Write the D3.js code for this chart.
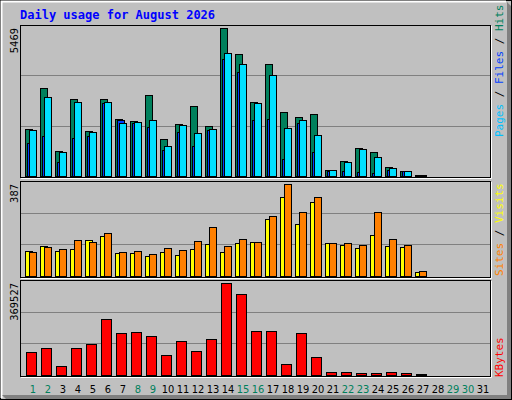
<!DOCTYPE html>
<html><head><meta charset="utf-8">
<script src="https://cdn.jsdelivr.net/npm/d3@7"></script>
<style>body{margin:0;background:#fff}</style>
</head><body><div id="chart"></div>
<script>
var days = d3.range(1, 32);
var weekends = [1, 2, 8, 9, 15, 16, 22, 23, 29, 30];
var hits = [1750,3270,934,2837,1676,2837,2121,2047,3011,1379,1936,2603,1861,5469,4494,2751,4123,2381,2195,2306,230,564,1046,897,341,193,37,0,0,0,0];
var files = [1231,1491,527,1416,1491,2714,2084,1973,1824,972,1639,1120,1713,4309,3827,2084,2121,638,1973,897,193,193,156,119,230,193,37,0,0,0,0];
var pages = [1713,2937,897,2751,1639,2751,1973,2010,2084,1120,1898,1602,1750,4531,4123,2714,3715,1787,2084,1528,230,527,1009,712,304,193,37,0,0,0,0];
var sites = [106,127,106,115,153,169,98,98,85,102,90,115,136,102,140,144,241,333,220,312,140,132,119,173,127,123,18,0,0,0,0];
var visits = [102,123,115,153,144,182,102,106,94,119,111,148,207,127,157,144,253,387,270,333,140,140,132,270,157,132,23,0,0,0,0];
var kbytes = [90560,106700,38000,106700,122900,224000,167400,171400,155300,78400,135000,94600,143100,369527,325000,175500,175500,46100,167400,70300,13700,13700,9700,9700,13700,9700,5700,0,0,0,0];

var W = 512, H = 400;
var svg = d3.select("#chart").append("svg").attr("width", W).attr("height", H)
  .style("font-family", "DejaVu Sans Mono, monospace");

// frame
svg.append("rect").attr("x", 0).attr("y", 0).attr("width", W).attr("height", H).attr("fill", "#c0c0c0");
svg.append("rect").attr("x", 0.5).attr("y", 0.5).attr("width", W - 1).attr("height", H - 1).attr("fill", "none").attr("stroke", "#000");
svg.append("path").attr("d", "M1.5,398 V1.5 H506").attr("stroke", "#fff").attr("stroke-width", 2).attr("fill", "none");
svg.append("path").attr("d", "M507,2 L511,6 V399 H6 L2,395 H507 Z").attr("fill", "#808080");

svg.append("text").attr("x", 20).attr("y", 19).text("Daily usage for August 2026")
  .attr("fill", "#0000ff").attr("font-weight", "bold").attr("font-size", 12);

var x = d3.scaleBand().domain(days).range([25, 490]).paddingInner(0);

function panel(top, bottom, max, label) {
  var y = d3.scaleLinear().domain([0, max]).range([bottom, top + 3]);
  var g = svg.append("g");
  g.append("rect").attr("x", 20.5).attr("y", top + 0.5).attr("width", 470).attr("height", bottom - top + 1)
    .attr("fill", "#c0c0c0").attr("stroke", "#000");
  g.append("path").attr("d", "M21," + (bottom + 2.5) + " H491.5 V" + (top + 1))
    .attr("stroke", "#fff").attr("fill", "none");
  [1 / 3, 2 / 3].forEach(function (f) {
    var yy = Math.round(bottom - (bottom - top) * f) + 0.5;
    g.append("line").attr("x1", 21).attr("x2", 490).attr("y1", yy).attr("y2", yy).attr("stroke", "#808080");
  });
  g.append("text").attr("transform", "translate(18," + (top + 3) + ") rotate(-90)")
    .attr("text-anchor", "end").attr("font-family", "DejaVu Sans Condensed, sans-serif")
    .attr("font-size", 11).text(label);
  return y;
}

function bars(data, y, dx, w, fill) {
  svg.append("g").selectAll("rect").data(data).enter()
    .filter(function (d) { return d > 0; })
    .append("rect")
    .attr("x", function (d, i) { return x(days[data.indexOf(d) >= 0 ? i : i]) + dx + 0.5; })
    .attr("y", function (d) { return Math.round(y(d)) + 0.5; })
    .attr("width", w)
    .attr("height", function (d) { return Math.max(1, Math.round(y(0) - y(d))); })
    .attr("fill", fill).attr("stroke", "#000");
}
function barsAt(data, y, dx, w, fill) {
  var g = svg.append("g");
  data.forEach(function (d, i) {
    if (d <= 0) return;
    g.append("rect").attr("x", x(days[i]) + dx + 0.5).attr("y", Math.round(y(d)) + 0.5)
      .attr("width", w).attr("height", Math.max(1, Math.round(y(0) - y(d))))
      .attr("fill", fill).attr("stroke", "#000");
  });
}

var y1 = panel(25, 176, 5469, "5469");
barsAt(hits, y1, 0, 7, "#00805c");
barsAt(files, y1, 2, 7, "#0040ff");
barsAt(pages, y1, 4, 7, "#00e0ff");

var y2 = panel(181, 276, 387, "387");
barsAt(sites, y2, 0, 7, "#ffff00");
barsAt(visits, y2, 4, 7, "#ff8000");

var y3 = panel(280, 375, 369527, "369527");
barsAt(kbytes, y3, 1, 10, "#ff0000");

// side legends
function sideLabel(yBottom, parts) {
  var t = svg.append("text").attr("transform", "translate(503," + yBottom + ") rotate(-90)")
    .attr("font-size", 11);
  parts.forEach(function (p) { t.append("tspan").attr("fill", p[1]).text(p[0]); });
}
sideLabel(137, [["Pages", "#00c0ff"], [" / ", "#000"], ["Files", "#0040ff"], [" / ", "#000"], ["Hits", "#00805c"]]);
sideLabel(276, [["Sites", "#ff8000"], [" / ", "#000"], ["Visits", "#ffff00"]]);
sideLabel(377, [["KBytes", "#ff0000"]]);

// day labels
svg.append("g").selectAll("text").data(days).enter().append("text")
  .attr("x", function (d) { return x(d) + 8; }).attr("y", 393)
  .attr("text-anchor", "middle").attr("font-family", "DejaVu Sans Condensed, sans-serif").attr("font-size", 11)
  .attr("fill", function (d) { return weekends.indexOf(d) >= 0 ? "#00805c" : "#000"; })
  .text(function (d) { return d; });
</script></body></html>
